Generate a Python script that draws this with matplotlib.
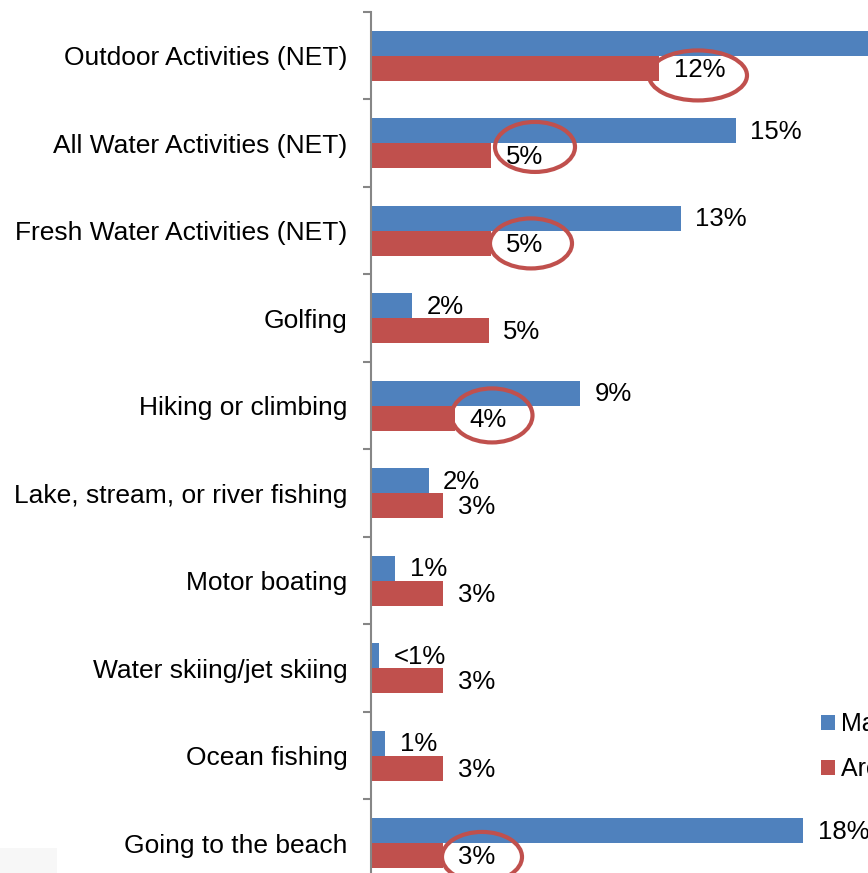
import matplotlib
matplotlib.use("Agg")
import matplotlib.pyplot as plt
from matplotlib.patches import Ellipse, Rectangle

plt.rcParams['font.family'] = ['Liberation Sans', 'DejaVu Sans']

# data (percent)
categories = ["Outdoor Activities (NET)", "All Water Activities (NET)",
              "Fresh Water Activities (NET)", "Golfing", "Hiking or climbing",
              "Lake, stream, or river fishing", "Motor boating",
              "Water skiing/jet skiing", "Ocean fishing", "Going to the beach"]
blue_vals = [24.0, 15.2, 12.9, 1.7, 8.7, 2.4, 1.0, 0.35, 0.6, 18.0]
red_vals = [12.0, 5.0, 5.0, 4.9, 3.5, 3.0, 3.0, 3.0, 3.0, 3.0]
# first blue label runs off the cropped frame in the original, so it stays blank
blue_labels = ["", "15%", "13%", "2%", "9%", "2%", "1%", "<1%", "1%", "18%"]
red_labels = ["12%", "5%", "5%", "5%", "4%", "3%", "3%", "3%", "3%", "3%"]
series_names = ["Maine", "Area average"]

# hand drawn circles around some red labels: (category, dx px, dy px, w px, h px)
circles = [(0, 39, 7, 98, 50), (1, 44, -9, 80, 50), (2, 40, 0, 82, 50),
           (4, 37, -3, 81, 54), (9, 39, 1, 80, 50)]

BLUE = '#4f81bd'
RED = '#c0504d'
W, H = 868, 873

fig = plt.figure(figsize=(W / 100, H / 100), dpi=100)
# axes run off the right and bottom edges like the cropped original
ax = fig.add_axes([371 / W, 1 - 887 / H, 720 / W, 875 / H])

y = list(range(len(categories)))
bh = 0.285
b1 = ax.barh([i - 0.145 for i in y], blue_vals, height=bh, color=BLUE, label=series_names[0], zorder=2)
b2 = ax.barh([i + 0.145 for i in y], red_vals, height=bh, color=RED, label=series_names[1], zorder=2)

ax.set_xlim(0, 30)
ax.set_ylim(len(categories) - 0.5, -0.5)

for i in y:
    if blue_labels[i]:
        ax.annotate(blue_labels[i], (blue_vals[i], i - 0.145), xytext=(10.5, -1),
                    textcoords='offset points', va='center', ha='left', fontsize=18.5, zorder=5)
    ax.annotate(red_labels[i], (red_vals[i], i + 0.145), xytext=(10.5, -1),
                textcoords='offset points', va='center', ha='left', fontsize=18.5, zorder=5)

px_x = 720 / 30.0   # pixels per percent
px_y = 875 / len(categories)  # pixels per category
for ci, dx, dy, w, h in circles:
    e = Ellipse((red_vals[ci] + dx / px_x, ci + 0.145 + dy / px_y), w / px_x, h / px_y,
                facecolor='none', edgecolor=RED, linewidth=3, zorder=4)
    ax.add_patch(e)

ax.set_yticks(y)
ax.set_yticklabels(categories, fontsize=19)
ax.set_yticks([i - 0.5 for i in range(len(categories) + 1)], minor=True)
ax.tick_params(axis='y', which='major', length=0, pad=17)
ax.tick_params(axis='y', which='minor', length=6, width=1.5, color='#868686')
ax.set_xticks([])
for s in ['top', 'right', 'bottom']:
    ax.spines[s].set_visible(False)
ax.spines['left'].set_color('#868686')
ax.spines['left'].set_linewidth(1.5)

fig.legend(handles=[b1, b2], loc='upper left', bbox_to_anchor=(821 / W, 1 - 712 / H),
           frameon=False, fontsize=18, handlelength=0.56, handleheight=0.56,
           handletextpad=0.25, labelspacing=0.85, borderpad=0, borderaxespad=0)

fig.patches.append(Rectangle((0, 0), 57 / W, 25 / H, transform=fig.transFigure,
                             facecolor='#f7f7f7', edgecolor='none', zorder=0))

fig.savefig('out.png', dpi=100)
